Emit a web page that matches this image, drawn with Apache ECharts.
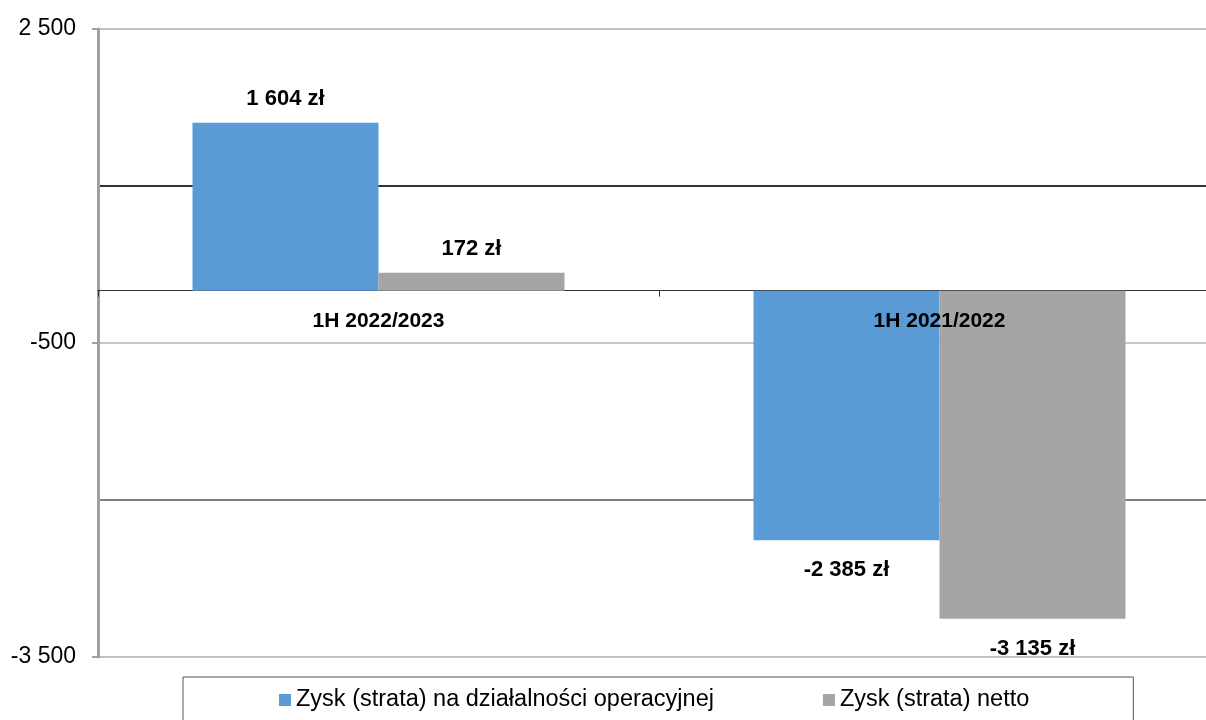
<!DOCTYPE html>
<html>
<head>
<meta charset="utf-8">
<script src="https://cdn.jsdelivr.net/npm/echarts@6/dist/echarts.min.js"></script>
<style>
  html, body { margin: 0; padding: 0; background: #fff; overflow: hidden; }
  /* wykres jest szerszy niz okno, prawa krawedz obszaru rysowania wychodzi poza kadr */
  #chart { width: 1220px; height: 720px; }
</style>
</head>
<body>
<div id="chart"></div>
<script>
// dane wykresu
const categories = ['1H 2022/2023', '1H 2021/2022'];
const seriesNames = ['Zysk (strata) na działalności operacyjnej', 'Zysk (strata) netto'];
const operacyjny = [1604, -2385];
const netto = [172, -3135];
const yLabelValues = [2500, -500, -3500];
const yMin = -3500;
const yMax = 2500;

const FONT = 'Liberation Sans, Arial, sans-serif';

// 1604 -> "1 604"
function fmt(v) {
  const s = String(Math.abs(v)).replace(/\B(?=(\d{3})+(?!\d))/g, ' ');
  return (v < 0 ? '-' : '') + s;
}

function barData(values) {
  return values.map(v => ({
    value: v,
    label: { position: v >= 0 ? 'top' : 'bottom', distance: v >= 0 ? 13 : 19 }
  }));
}

const chart = echarts.init(document.getElementById('chart'));

const labelStyle = {
  show: true,
  color: '#000',
  fontFamily: FONT,
  fontWeight: 'bold',
  fontSize: 22,
  formatter: p => fmt(p.value) + ' zł'
};

const option = {
  animation: false,
  backgroundColor: '#fff',
  grid: { left: 98, top: 29, right: 0, height: 628, containLabel: false },
  legend: {
    data: seriesNames,
    left: 183,
    top: 677,
    orient: 'horizontal',
    itemWidth: 12,
    itemHeight: 12,
    itemGap: 109,
    icon: 'rect',
    padding: [11, 104, 30, 96],
    borderColor: '#555',
    borderWidth: 1,
    textStyle: { fontFamily: FONT, fontSize: 23.5, color: '#000' }
  },
  xAxis: [
    {
      // os na poziomie zera (linia + znaczniki)
      type: 'category',
      data: categories,
      axisLine: { onZero: true, onZeroAxisIndex: 0, lineStyle: { color: '#333', width: 1 } },
      axisTick: { show: true, length: 6, lineStyle: { color: '#333' } },
      axisLabel: { show: false },
      splitLine: { show: false }
    },
    {
      // opisy kategorii, przesuwane pod linie zera po pierwszym rysowaniu
      type: 'category',
      data: categories,
      position: 'bottom',
      offset: 0,
      z: 10,
      axisLine: { show: false, onZero: false },
      axisTick: { show: false },
      axisLabel: {
        margin: 20,
        color: '#000',
        fontFamily: FONT,
        fontWeight: 'bold',
        fontSize: 21
      },
      splitLine: { show: false }
    }
  ],
  yAxis: [
    {
      // linie siatki co 1500
      type: 'value',
      min: yMin,
      max: yMax,
      interval: 1500,
      axisLine: { show: false },
      axisTick: { show: false },
      axisLabel: { show: false },
      splitLine: {
        show: true,
        lineStyle: {
          color: ['#c0c0c0', '#808080', '#c8c8c8', '#333333', '#c0c0c0'],
          width: 2
        }
      }
    },
    {
      // opisy co 3000
      type: 'value',
      position: 'left',
      min: yMin,
      max: yMax,
      interval: 3000,
      axisLine: { show: true, onZero: false, lineStyle: { color: '#a0a0a0', width: 3 } },
      axisTick: { show: true, length: 6, lineStyle: { color: '#a0a0a0', width: 2 } },
      axisLabel: {
        margin: 22,
        color: '#000',
        fontFamily: FONT,
        fontSize: 23,
        formatter: v => (yLabelValues.indexOf(v) >= 0 ? fmt(v) : '')
      },
      splitLine: { show: false }
    }
  ],
  series: [
    {
      name: seriesNames[0],
      type: 'bar',
      data: barData(operacyjny),
      barWidth: 186,
      barGap: '0%',
      itemStyle: { color: '#5b9bd5' },
      label: labelStyle
    },
    {
      name: seriesNames[1],
      type: 'bar',
      data: barData(netto),
      barWidth: 186,
      barGap: '0%',
      itemStyle: { color: '#a5a5a5' },
      label: labelStyle
    }
  ]
};

chart.setOption(option);

// przesuniecie opisow kategorii do linii zera
const zeroY = chart.convertToPixel({ yAxisIndex: 0 }, 0);
const bottomY = chart.convertToPixel({ yAxisIndex: 0 }, yMin);
chart.setOption({ xAxis: [{}, { offset: zeroY - bottomY }] });
</script>
</body>
</html>
